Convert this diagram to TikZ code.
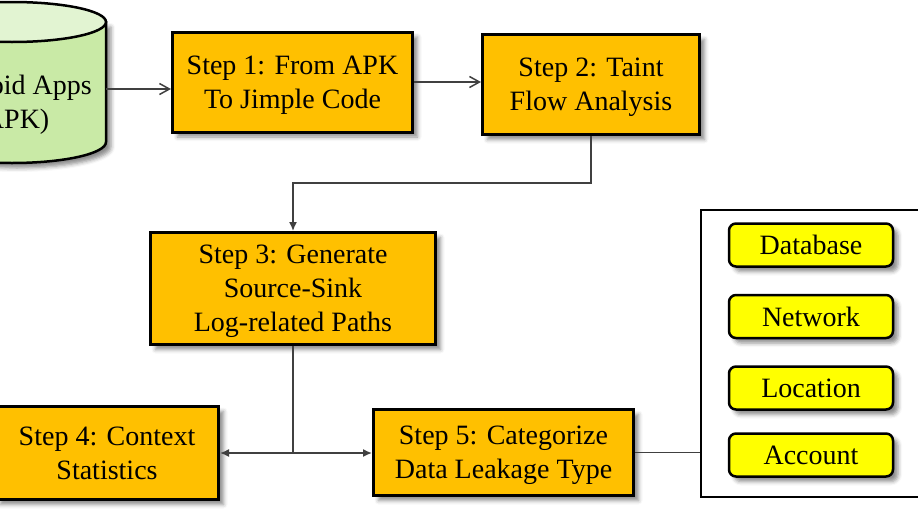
\documentclass[tikz,border=0pt]{standalone}
\usepackage{fontspec}
\setmainfont{Liberation Serif}
\usetikzlibrary{arrows.meta,shadows.blur}
\definecolor{stepfill}{HTML}{FFC000}
\definecolor{catfill}{HTML}{FFFF00}
\definecolor{cylbody}{HTML}{C9EAA6}
\definecolor{cyltop}{HTML}{E2F4D2}
\definecolor{linkgray}{HTML}{404040}

\begin{document}
\begin{tikzpicture}[x=1pt,y=-1pt,
		every node/.style={font=\fontsize{28}{34}\selectfont, align=center, inner sep=0pt},
		shade/.style={blur shadow={shadow xshift=5pt, shadow yshift=-5pt, shadow blur radius=4pt, shadow opacity=45}},
		stepbox/.style={draw, line width=3pt, fill=stepfill, text depth=-4pt, shade},
		catbox/.style={draw, line width=2.5pt, fill=catfill, rounded corners=7pt, minimum width=164pt, minimum height=43pt, shade},
		link/.style={line width=1.5pt, draw=linkgray},
		openhead/.style={-{Straight Barb[length=10pt,width=11pt]}},
		solidhead/.style={-{Latex[length=9pt,width=8pt]}}]
			\useasboundingbox (0,0) rectangle (918,517);
			\clip (0,0) rectangle (918,517);
			\filldraw [fill=cylbody, line width=2.5pt, shade] (-82,22) -- (-82,142) arc [start angle=180, end angle=0, x radius=94, y radius=21] -- (106,22) -- cycle;
			\filldraw [fill=cyltop, line width=2.5pt] (12,22) ellipse [x radius=94, y radius=20];
			\node (apps) at (12,105) {Android Apps\\(APK)};
			\coordinate (appsR) at (106,89);
			\node [stepbox, minimum width=240pt, minimum height=100pt] (s1) at (292.5,82) {Step 1: From APK\\To Jimple Code};
			\node [stepbox, minimum width=217pt, minimum height=100pt] (s2) at (591,84.5) {Step 2: Taint\\Flow Analysis};
			\node [stepbox, minimum width=285pt, minimum height=112pt] (s3) at (293,288.5) {Step 3: Generate\\Source-Sink\\Log-related Paths};
			\node [stepbox, minimum width=223pt, minimum height=93pt] (s4) at (107,453) {Step 4: Context\\Statistics};
			\node [stepbox, minimum width=260pt, minimum height=86pt] (s5) at (503.5,452.5) {Step 5: Categorize\\Data Leakage Type};
			\node [draw, line width=2pt, minimum width=229pt, minimum height=287pt] (cats) at (815.5,353) {};
			\node [catbox] (db) at (811,245) {Database};
			\node [catbox] (net) at (811,316.5) {Network};
			\node [catbox] (loc) at (811,388) {Location};
			\node [catbox] (acc) at (811,455) {Account};
			\draw [link, openhead] (appsR) -- (s1.west |- appsR);
			\draw [link, openhead] (s1.east) -- (s2.west |- s1.east);
			\draw [link, solidhead] (s2.south) -- ++(0,47) -| (s3.north);
			\coordinate (split) at (293,453);
			\draw [link] (s3.south) -- (split);
			\draw [link, solidhead] (split) -- (s4.east |- split);
			\draw [link, solidhead] (split) -- (s5.west |- split);
			\draw [link] (s5.east) -- (cats.west |- s5.east);
		\end{tikzpicture}
\end{document}
